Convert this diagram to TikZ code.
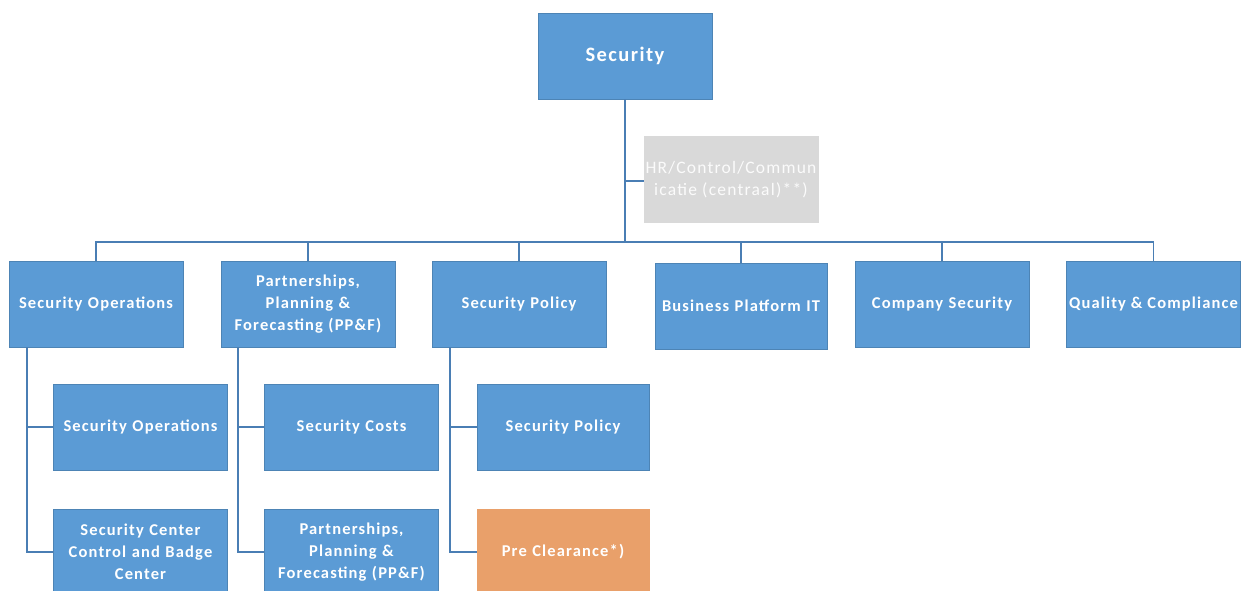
\documentclass[tikz,border=0pt]{standalone}
\usepackage{fontspec}
\setmainfont{Carlito}
\newfontfamily\boxfont[LetterSpace=7]{Carlito}
\definecolor{boxblue}{HTML}{5B9BD5}
\definecolor{linec}{HTML}{4A7EB4}
\definecolor{hrgray}{HTML}{D9D9D9}
\definecolor{preor}{HTML}{E9A06A}
\begin{document}
\begin{tikzpicture}[x=1pt,y=-1pt,
  unit/.style={fill=boxblue, draw=boxblue!85!black, line width=0.3pt, minimum width=174pt, minimum height=86pt, inner sep=2pt, text=white, font=\boxfont\bfseries\fontsize{16.5}{22}\selectfont, align=center, text width=170pt},
  lbl/.style={text=white, font=\boxfont\bfseries\fontsize{16.5}{22}\selectfont, inner sep=0pt},
  conn/.style={draw=linec, line width=1.8pt},
  ]
\useasboundingbox (0,0) rectangle (1244,590);
\clip (0,0) rectangle (1244,590);
\node[unit, font=\boxfont\bfseries\fontsize{20.5}{24}\selectfont] (sec) at (625,56) {Security};
\node[unit, fill=hrgray, draw=hrgray] (hr) at (731,179.5) {};
\begin{scope}
\clip (hr.south west) rectangle (hr.north east);
\node[text=white!97!gray, font=\boxfont\fontsize{17.5}{22}\selectfont, align=center, inner sep=0pt] (hrtext) at (hr) {HR/Control/Commun\\icatie (centraal)**)};
\end{scope}
\node[unit] (so) at (96,304) {Security Operations};
\node[unit] (pp) at (308,304) {Partnerships,\\Planning \&\\Forecasting (PP\&F)};
\node[unit] (sp) at (519,304) {Security Policy};
\node[unit, minimum width=172pt, text width=168pt] (bp) at (741,306) {Business Platform IT};
\node[unit] (cs) at (942,304) {Company Security};
\node[unit] (qc) at (1153.5,304) {};
\begin{scope}
\clip (qc.south west) rectangle (qc.north east);
\node[lbl] (qctext) at (qc) {Quality \& Compliance};
\end{scope}
\node[unit, minimum width=173pt] (so1) at (140.5,427) {Security Operations};
\node[unit, minimum width=173pt] (so2) at (140.5,552) {Security Center\\Control and Badge\\Center};
\node[unit, minimum width=173pt] (pp1) at (351.5,427) {Security Costs};
\node[unit, minimum width=173pt] (pp2) at (351.5,552) {Partnerships,\\Planning \&\\Forecasting (PP\&F)};
\node[unit, minimum width=172pt, text width=168pt] (sp1) at (563,427) {Security Policy};
\node[unit, minimum width=172pt, text width=168pt, fill=preor, draw=preor] (sp2) at (563,552) {Pre Clearance*)};
% connectors
\coordinate (bus) at (625,242);
\draw[conn] (sec.south) -- (bus);
\draw[conn] (625,181) -- (hr.west |- 0,181);
\draw[conn] (so.north) |- (bus);
\draw[conn] (pp.north) |- (bus);
\draw[conn] (sp.north) |- (bus);
\draw[conn] (bp.north) |- (bus);
\draw[conn] (cs.north) |- (bus);
\draw[conn] (qc.north) |- (bus);
\draw[conn] (so.south -| 27,0) |- (so1.west);
\draw[conn] (so.south -| 27,0) |- (so2.west);
\draw[conn] (pp.south -| 238,0) |- (pp1.west);
\draw[conn] (pp.south -| 238,0) |- (pp2.west);
\draw[conn] (sp.south -| 450,0) |- (sp1.west);
\draw[conn] (sp.south -| 450,0) |- (sp2.west);
\end{tikzpicture}
\end{document}
